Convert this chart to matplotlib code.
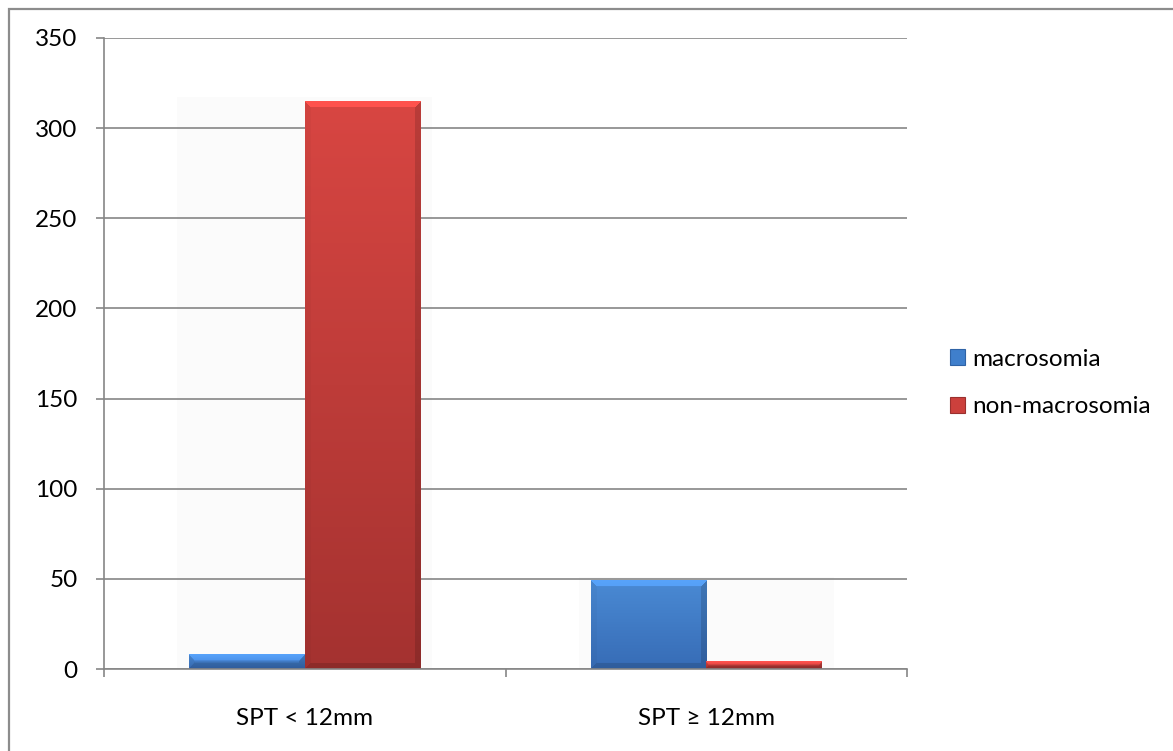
import numpy as np
import matplotlib.pyplot as plt
from matplotlib.patches import Rectangle, Patch

# counts per skinfold group
categories = ['SPT < 12mm', 'SPT ≥ 12mm']
series_names = ['macrosomia', 'non-macrosomia']
macrosomia = [8, 49]
non_macrosomia = [315, 4]
y_ticks = [0, 50, 100, 150, 200, 250, 300, 350]

W, H = 1173, 751
plt.rcParams['font.family'] = ['Lato', 'DejaVu Sans']
fig = plt.figure(figsize=(W / 100, H / 100), dpi=100)
ax_left, ax_right, ax_top, ax_bottom = 104, 907, 38, 669
ax = fig.add_axes([ax_left / W, 1 - ax_bottom / H, (ax_right - ax_left) / W, (ax_bottom - ax_top) / H])

# outer chart border (only left/top edges fall inside the image)
fig.patches.append(Rectangle((9 / W, -0.2), 1.5, (H - 9) / H + 0.2, transform=fig.transFigure,
                             fill=False, edgecolor='#8c8c8c', linewidth=1.6))

px_per_x = (ax_right - ax_left) / 2.0
px_per_y = (ax_bottom - ax_top) / 350.0

bar_w = 0.288
fs = 17.5
colors = {
	'macrosomia': ((74, 138, 212), (55, 108, 182)),
	'non-macrosomia': ((216, 70, 66), (164, 50, 48)),
}


def bevel_image(value, top_rgb, bot_rgb, w_px, b=6):
	h_px = max(int(round(value * px_per_y)), 2)
	t = np.linspace(0, 1, h_px)[:, None]
	top = np.array(top_rgb) / 255.0
	bot = np.array(bot_rgb) / 255.0
	img = top[None, None, :] * (1 - t[..., None]) + bot[None, None, :] * t[..., None]
	img = np.repeat(img, w_px, axis=1)
	ii, jj = np.mgrid[0:h_px, 0:w_px]
	d_top, d_bot = ii, h_px - 1 - ii
	d_left, d_right = jj, w_px - 1 - jj
	bb = min(b, h_px // 2)
	dmin = np.minimum.reduce([d_top, d_bot, d_left, d_right])
	edge = dmin < bb
	fac = np.ones((h_px, w_px))
	fac[edge & (d_top == dmin)] = 1.18
	fac[edge & (d_left == dmin) & (d_top != dmin)] = 0.97
	fac[edge & (d_right == dmin) & (d_top != dmin)] = 0.86
	fac[edge & (d_bot == dmin)] = 0.86
	img = np.clip(img * fac[..., None], 0, 1)
	return img


x_centers = np.array([0.5, 1.5])
for k, (vals, name) in enumerate([(macrosomia, 'macrosomia'), (non_macrosomia, 'non-macrosomia')]):
	offset = (k - 0.5) * bar_w
	for xc, v in zip(x_centers, vals):
		x0 = xc + offset - bar_w / 2
		img = bevel_image(v, *colors[name], int(round(bar_w * px_per_x)))
		ax.imshow(img, extent=(x0, x0 + bar_w, 0, v), aspect='auto', origin='upper',
		          interpolation='bilinear', zorder=3)

# faint soft shadow behind each group, under the gridlines
for i, xc in enumerate(x_centers):
	top = max(macrosomia[i], non_macrosomia[i])
	ax.add_patch(Rectangle((xc - bar_w - 0.03, 0), 2 * bar_w + 0.06, top + 2,
	                       facecolor='#fbfbfb', edgecolor='none', zorder=0.2))

ax.set_xlim(0, 2)
ax.set_ylim(0, 350)
ax.set_aspect('auto')

grey = '#868686'
for s in ['top', 'right']:
	ax.spines[s].set_visible(False)
for s in ['left', 'bottom']:
	ax.spines[s].set_color(grey)
	ax.spines[s].set_linewidth(1.2)
	ax.spines[s].set_zorder(4)

ax.set_yticks(y_ticks)
ax.set_axisbelow(True)
ax.yaxis.grid(True, color=grey, linewidth=1.2)
ax.tick_params(axis='y', direction='out', length=6, width=1.2, color=grey, pad=13,
               labelsize=fs, labelcolor='black')

ax.set_xticks([0, 1, 2])
ax.set_xticklabels([])
ax.set_xticks(x_centers, minor=True)
ax.set_xticklabels(categories, minor=True)
ax.tick_params(axis='x', which='major', direction='out', length=6, width=1.2, color=grey)
ax.tick_params(axis='x', which='minor', length=0, pad=28, labelsize=fs, labelcolor='black')

handles = [Patch(facecolor='#3f7fcc', edgecolor='#2f63a6', linewidth=0.8),
           Patch(facecolor='#cc403c', edgecolor='#9a302e', linewidth=0.8)]
fig.legend(handles, series_names, loc='center left', bbox_to_anchor=(940 / W, 1 - 383 / H),
           frameon=False, fontsize=fs, handlelength=0.62, handleheight=0.62,
           handletextpad=0.3, labelspacing=1.1, borderaxespad=0)

fig.savefig('out.png', dpi=100)
